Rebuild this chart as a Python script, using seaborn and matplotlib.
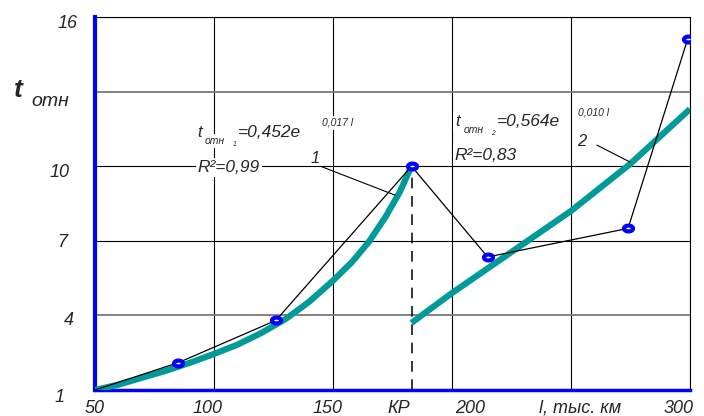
import numpy as np
import pandas as pd
import seaborn as sns
import matplotlib.pyplot as plt
from matplotlib.path import Path
from matplotlib.transforms import ScaledTranslation

# measured points (run, relative failure rate)
run_km = [50, 85, 126, 183, 215, 274, 299]
t_rel = [1.0, 2.1, 3.8, 10.0, 6.35, 7.5, 15.1]

# trend curve 1 (before overhaul)
trend1_km = [50, 60, 70, 80, 90, 100, 110, 120, 130, 140, 150, 158, 165, 172, 178, 183]
trend1_t = [1.0, 1.22, 1.5, 1.78, 2.1, 2.45, 2.83, 3.3, 3.85, 4.55, 5.4, 6.15, 6.95, 7.95, 8.95, 10.0]

# trend curve 2 (after overhaul)
trend2_km = [183, 200, 225, 250, 275, 300]
trend2_t = [3.7, 4.9, 6.55, 8.2, 10.1, 12.3]

kr_km = 183
x_ticks = [50, 100, 150, 200, 250, 300]
x_labels = ['50', '100', '150', '200', 'l, тыс. км', '300']
y_ticks = [1, 4, 7, 10, 13, 16]
y_labels = ['1', '4', '7', '10', '', '16']

teal = '#009b98'
blue = '#0000ff'

sns.set_theme(style='white')
plt.rcParams['font.family'] = ['Liberation Sans', 'DejaVu Sans']
plt.rcParams['font.style'] = 'italic'

fig, ax = plt.subplots(figsize=(7.04, 4.16), dpi=100)
fig.subplots_adjust(left=0.135, right=0.980, bottom=0.0625, top=0.959)

df1 = pd.DataFrame({'l': trend1_km, 't': trend1_t})
df2 = pd.DataFrame({'l': trend2_km, 't': trend2_t})
pts = pd.DataFrame({'l': run_km, 't': t_rel})

sns.lineplot(data=df1, x='l', y='t', ax=ax, color=teal, lw=4.5,
             estimator=None, sort=False, solid_capstyle='butt',
             solid_joinstyle='round', zorder=3)
sns.lineplot(data=df2, x='l', y='t', ax=ax, color=teal, lw=4.5,
             estimator=None, sort=False, solid_capstyle='butt',
             solid_joinstyle='round', zorder=3)
sns.lineplot(data=pts, x='l', y='t', ax=ax, color='black', lw=0.9,
             estimator=None, sort=False, zorder=4)

# flattened ring marker like in the original
th = np.linspace(0, 2 * np.pi, 40)
ellipse = Path(np.column_stack([np.cos(th), 0.65 * np.sin(th)]), closed=True)
sns.scatterplot(data=pts.iloc[1:], x='l', y='t', ax=ax, marker=ellipse, s=42,
                facecolor='white', edgecolor=blue, linewidth=3, zorder=5)

# overhaul line
ax.plot([kr_km, kr_km], [1, t_rel[3]], color='black', lw=1.1,
        ls=(0, (7, 5)), zorder=2)

ax.set_xlim(50, 300)
ax.set_ylim(1, 16)
ax.set_xticks(x_ticks)
ax.set_xticklabels(x_labels)
ax.set_xticks([kr_km], minor=True)
ax.set_xticklabels(['КР'], minor=True)
ax.set_yticks(y_ticks)
ax.set_yticklabels(y_labels)
ax.set_xlabel('')
ax.set_ylabel('')
ax.tick_params(axis='both', which='both', length=0, labelsize=13)
ax.tick_params(axis='x', which='both', pad=7)
ax.tick_params(axis='y', pad=15)

ax.grid(True, color='black', lw=0.8)
for i, gl in enumerate(ax.yaxis.get_gridlines()):
    if y_ticks[i] in (4, 13):
        gl.set_color('#7a7a7a')
        gl.set_linewidth(1.3)

ax.spines['left'].set_color(blue)
ax.spines['left'].set_linewidth(3)
ax.spines['bottom'].set_color(blue)
ax.spines['bottom'].set_linewidth(2.5)
for s in ['top', 'right']:
    ax.spines[s].set_color('black')
    ax.spines[s].set_linewidth(0.8)

# nudge tick labels to where they sit in the original (pixels)
x_shift = {'50': 0, '100': -6, '150': -5, '200': 18, 'l, тыс. км': 9, '300': -11}
for lab in ax.get_xticklabels():
    dx = x_shift.get(lab.get_text(), 0)
    lab.set_transform(lab.get_transform() + ScaledTranslation(dx / 100, 0, fig.dpi_scale_trans))
for lab in ax.get_xticklabels(minor=True):
    lab.set_transform(lab.get_transform() + ScaledTranslation(-13 / 100, 0, fig.dpi_scale_trans))
y_shift = {'16': (3, -4), '10': (-5, -4), '7': (-7, 0), '4': (0, -3), '1': (-10, -6)}
for lab in ax.get_yticklabels():
    dx, dy = y_shift.get(lab.get_text(), (0, 0))
    lab.set_transform(lab.get_transform() + ScaledTranslation(dx / 100, dy / 100, fig.dpi_scale_trans))

# y axis title
fig.text(0.020, 0.767, 't', fontsize=19, fontweight='bold')
fig.text(0.045, 0.745, 'отн', fontsize=14)

box = dict(facecolor='white', edgecolor='none', pad=1.5)
tk = dict(transform=ax.transAxes, zorder=6)

# equation for curve 1
ax.text(0.171, 0.678, 't', fontsize=12, bbox=box, **tk)
ax.text(0.185, 0.660, 'отн', fontsize=7.5, bbox=box, **tk)
ax.text(0.232, 0.655, '1', fontsize=5, **tk)
ax.text(0.240, 0.678, '=0,452e', fontsize=12.5, bbox=box, **tk)
ax.text(0.381, 0.708, '0,017 l', fontsize=7.5, bbox=box, **tk)
ax.text(0.173, 0.584, 'R²=0,99', fontsize=12.5, bbox=box, **tk)
ax.text(0.363, 0.609, '1', fontsize=12, **tk)

# equation for curve 2
ax.text(0.605, 0.708, 't', fontsize=12, bbox=box, **tk)
ax.text(0.619, 0.690, 'отн', fontsize=7.5, bbox=box, **tk)
ax.text(0.666, 0.685, '2', fontsize=5, **tk)
ax.text(0.676, 0.708, '=0,564e', fontsize=12.5, bbox=box, **tk)
ax.text(0.812, 0.737, '0,010 l', fontsize=7.5, bbox=box, **tk)
ax.text(0.605, 0.617, 'R²=0,83', fontsize=12.5, bbox=box, **tk)
ax.text(0.810, 0.654, '2', fontsize=12, **tk)

# leader lines from the curve numbers
ax.plot([145.3, 176.0], [9.98, 8.84], color='black', lw=0.8, zorder=4)
ax.plot([260.9, 274.8], [10.85, 10.17], color='black', lw=0.8, zorder=4)

plt.savefig('out.png', dpi=100)
